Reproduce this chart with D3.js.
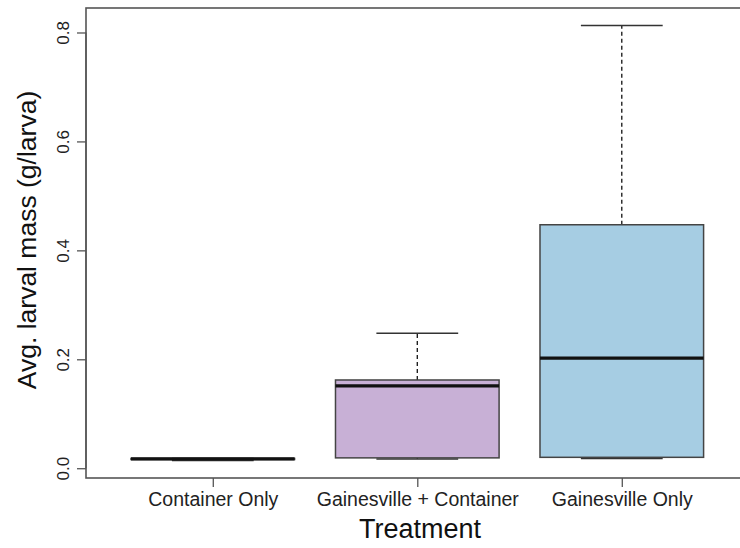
<!DOCTYPE html>
<html>
<head>
<meta charset="utf-8">
<script src="https://cdn.jsdelivr.net/npm/d3@7"></script>
<style>
  body { margin: 0; background: #fff; }
  svg { display: block; font-family: "Liberation Sans", Arial, sans-serif; }
</style>
</head>
<body>
<div id="grafico"></div>
<script>
// Dados (estatísticas de cada caixa)
const categorias = ["Container Only", "Gainesville + Container", "Gainesville Only"];
const bigodeInf = [0.014, 0.017, 0.018];
const quartil1 = [0.016, 0.019, 0.020];
const mediana = [0.017, 0.151, 0.202];
const quartil3 = [0.018, 0.162, 0.447];
const bigodeSup = [0.018, 0.248, 0.813];
const coresCaixa = ["#cbb2d8", "#c8b0d6", "#a6cde3"];
const ticksY = [0.0, 0.2, 0.4, 0.6, 0.8];

const largura = 740, altura = 548;
const area = { left: 86, top: 8, bottom: 478 };

const dados = categorias.map((c, i) => ({
  nome: c, pos: i + 1,
  lo: bigodeInf[i], q1: quartil1[i], med: mediana[i], q3: quartil3[i], hi: bigodeSup[i],
  cor: coresCaixa[i]
}));

const svg = d3.select("#grafico").append("svg")
  .attr("width", largura)
  .attr("height", altura);

// Escalas (como no R: extensão de 4% nos dois eixos)
const yMin = d3.min(bigodeInf), yMax = d3.max(bigodeSup);
const padY = (yMax - yMin) * 0.04;
const escalaY = d3.scaleLinear()
  .domain([yMin - padY, yMax + padY])
  .range([area.bottom, area.top]);

const x0 = 0.5 - 0.12, x1 = categorias.length + 0.5 + 0.12;
const passo = 204.5;
const escalaX = d3.scaleLinear()
  .domain([x0, x1])
  .range([area.left, area.left + (x1 - x0) * passo]);

const larguraCaixa = 0.8, larguraCap = 0.4;

// Caixas
const g = svg.append("g");
const caixa = g.selectAll("g.caixa").data(dados).enter().append("g");

caixa.append("line")
  .attr("x1", d => escalaX(d.pos)).attr("x2", d => escalaX(d.pos))
  .attr("y1", d => escalaY(d.q3)).attr("y2", d => escalaY(d.hi))
  .attr("stroke", "#111").attr("stroke-width", 1.3).attr("stroke-dasharray", "4,3");
caixa.append("line")
  .attr("x1", d => escalaX(d.pos)).attr("x2", d => escalaX(d.pos))
  .attr("y1", d => escalaY(d.q1)).attr("y2", d => escalaY(d.lo))
  .attr("stroke", "#111").attr("stroke-width", 1.3).attr("stroke-dasharray", "4,3");

caixa.append("line")
  .attr("x1", d => escalaX(d.pos - larguraCap / 2)).attr("x2", d => escalaX(d.pos + larguraCap / 2))
  .attr("y1", d => escalaY(d.hi)).attr("y2", d => escalaY(d.hi))
  .attr("stroke", "#333").attr("stroke-width", 1.5);
caixa.append("line")
  .attr("x1", d => escalaX(d.pos - larguraCap / 2)).attr("x2", d => escalaX(d.pos + larguraCap / 2))
  .attr("y1", d => escalaY(d.lo)).attr("y2", d => escalaY(d.lo))
  .attr("stroke", "#333").attr("stroke-width", 1.5);

caixa.append("rect")
  .attr("x", d => escalaX(d.pos - larguraCaixa / 2))
  .attr("width", d => escalaX(d.pos + larguraCaixa / 2) - escalaX(d.pos - larguraCaixa / 2))
  .attr("y", d => escalaY(d.q3))
  .attr("height", d => escalaY(d.q1) - escalaY(d.q3))
  .attr("fill", d => d.cor)
  .attr("stroke", "#444").attr("stroke-width", 1.5);

caixa.append("line")
  .attr("x1", d => escalaX(d.pos - larguraCaixa / 2)).attr("x2", d => escalaX(d.pos + larguraCaixa / 2))
  .attr("y1", d => escalaY(d.med)).attr("y2", d => escalaY(d.med))
  .attr("stroke", "#111").attr("stroke-width", 3.2);

// Moldura
svg.append("rect")
  .attr("x", area.left).attr("y", area.top)
  .attr("width", escalaX(x1) - area.left).attr("height", area.bottom - area.top)
  .attr("fill", "none").attr("stroke", "#555").attr("stroke-width", 1.6);

// Eixo Y
const eixoY = svg.append("g")
  .attr("transform", `translate(${area.left},0)`)
  .call(d3.axisLeft(escalaY).tickValues(ticksY).tickSize(9).tickSizeOuter(0).tickFormat(d3.format(".1f")));
eixoY.select(".domain")
  .attr("d", `M0,${escalaY(0)}V${escalaY(0.8)}`)
  .attr("stroke", "#555").attr("stroke-width", 1.3);
eixoY.selectAll(".tick line").attr("stroke", "#555").attr("stroke-width", 1.3);
eixoY.selectAll(".tick text")
  .attr("x", 0).attr("dy", 0)
  .attr("transform", "translate(-17,0) rotate(-90)")
  .attr("text-anchor", "middle")
  .style("font-size", "17px").attr("fill", "#222");

// Eixo X
const eixoX = svg.append("g")
  .attr("transform", `translate(0,${area.bottom})`)
  .call(d3.axisBottom(escalaX).tickValues(dados.map(d => d.pos)).tickSize(9).tickSizeOuter(0)
    .tickFormat(p => categorias[p - 1]));
eixoX.select(".domain").remove();
eixoX.selectAll(".tick line").attr("stroke", "#555").attr("stroke-width", 1.3);
eixoX.selectAll(".tick text")
  .attr("y", 28).attr("dy", 0)
  .style("font-size", "19.5px").attr("fill", "#222");

// Títulos dos eixos
svg.append("text")
  .attr("x", 420)
  .attr("y", 538)
  .attr("text-anchor", "middle")
  .style("font-size", "27px").attr("fill", "#111")
  .text("Treatment");

svg.append("text")
  .attr("transform", "translate(36,240) rotate(-90)")
  .attr("text-anchor", "middle")
  .style("font-size", "26.5px").attr("fill", "#111")
  .text("Avg. larval mass (g/larva)");
</script>
</body>
</html>
